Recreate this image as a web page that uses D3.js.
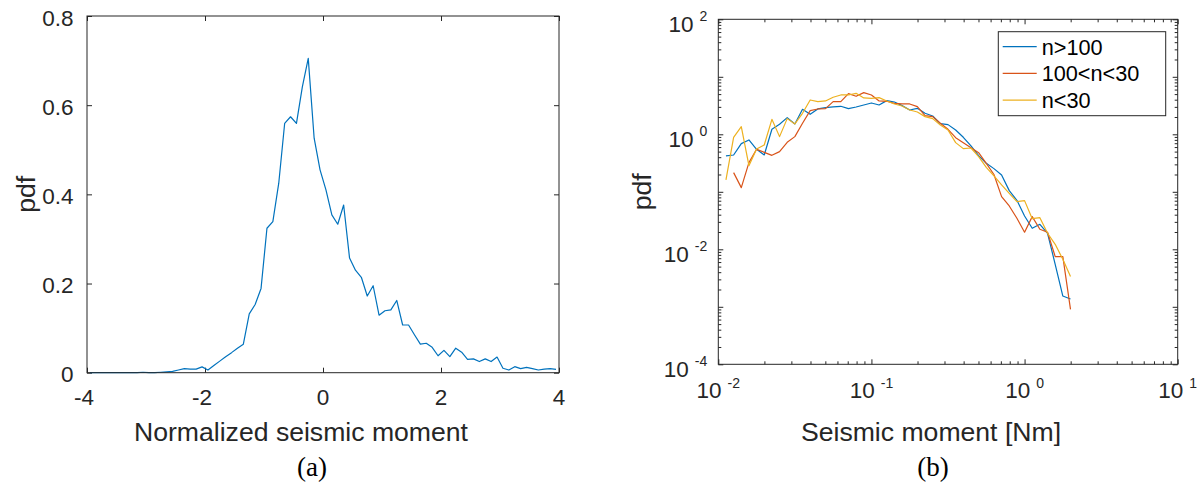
<!DOCTYPE html>
<html><head><meta charset="utf-8">
<script src="https://cdn.jsdelivr.net/npm/d3@7"></script>
<style>
html,body{margin:0;padding:0;background:#fff;}
svg{display:block;font-family:"Liberation Sans",Arial,Helvetica,sans-serif;}
</style></head>
<body>
<svg id="chart" width="1203" height="494"></svg>
<script>
// ---------- Data: panel (a) ----------
const normMomentX = [-3.95,-3.85,-3.75,-3.65,-3.55,-3.45,-3.35,-3.25,-3.15,-3.05,-2.95,-2.85,-2.75,-2.65,-2.55,-2.45,-2.35,-2.25,-2.15,-2.05,
 -1.95,-1.85,-1.75,-1.65,-1.55,-1.45,-1.35,-1.25,-1.15,-1.05,-0.95,-0.85,-0.75,-0.65,-0.55,-0.45,-0.35,-0.25,-0.15,-0.05,
 0.05,0.15,0.25,0.35,0.45,0.55,0.65,0.75,0.85,0.95,1.05,1.15,1.25,1.35,1.45,1.55,1.65,1.75,1.85,1.95,
 2.05,2.15,2.25,2.35,2.45,2.55,2.65,2.75,2.85,2.95,3.05,3.15,3.25,3.35,3.45,3.55,3.65,3.75,3.85,3.95];
const normMomentPdf = [0,0,0,0,0,0,0,0,0,0.001,0,0,0.001,0.002,0.003,0.006,0.009,0.008,0.008,0.013,
 0.006,0.016,0.026,0.036,0.045,0.055,0.064,0.132,0.153,0.189,0.324,0.339,0.425,0.559,0.574,0.559,0.641,0.705,0.526,0.455,
 0.410,0.354,0.333,0.376,0.257,0.230,0.214,0.172,0.195,0.129,0.139,0.141,0.162,0.107,0.107,0.085,0.064,0.066,0.057,0.038,
 0.050,0.036,0.055,0.046,0.030,0.031,0.025,0.031,0.025,0.035,0.010,0.006,0.0135,0.009,0.012,0.009,0.006,0.008,0.009,0.0075];
const aXTicks = [-4,-2,0,2,4];
const aYTicks = [0,0.2,0.4,0.6,0.8];

// ---------- Data: panel (b) ----------
const momentX = [0.01122,0.01259,0.01413,0.01585,0.01778,0.01995,0.02239,0.02512,0.02818,0.03162,0.03548,0.03981,0.04467,0.05012,0.05623,0.0631,
 0.07079,0.07943,0.08913,0.1,0.1122,0.1259,0.1413,0.1585,0.1778,0.1995,0.2239,0.2512,0.2818,0.3162,0.3548,0.3981,0.4467,0.5012,0.5623,0.631,
 0.7079,0.7943,0.8913,1.0,1.122,1.259,1.413,1.585,1.778,1.995];
const pdfN100 = [0.420,0.437,0.688,0.797,0.548,0.437,1.222,1.493,1.950,1.513,2.722,2.228,2.758,2.909,2.988,3.069,
 2.795,2.988,3.237,3.507,3.237,3.850,3.650,3.152,2.650,2.832,2.318,2.084,1.533,1.473,1.190,0.887,0.627,0.426,0.313,0.253,
 0.196,0.1048,0.0712,0.0380,0.0232,0.0272,0.0190,0.00548,0.00154,0.00137];
const pdfN30to100 = [null,0.2154,0.1181,0.3214,0.548,0.486,0.431,0.4995,0.726,0.911,1.553,2.580,2.758,2.795,3.700,3.700,
 5.096,4.580,5.304,4.832,3.800,3.750,3.460,3.370,3.370,3.028,2.112,2.029,1.553,1.222,0.875,0.716,0.586,0.480,0.313,0.200,
 0.0824,0.0567,0.0346,0.0198,0.0370,0.0223,0.0198,0.00746,0.00746,0.000905];
const pdfN30 = [0.1606,0.887,1.359,0.285,0.556,0.652,1.823,0.911,1.873,1.513,2.318,3.955,3.700,3.800,4.400,4.832,
 4.832,5.164,4.283,4.227,4.342,3.800,3.370,3.110,2.650,2.446,2.029,1.873,1.453,1.190,0.716,0.563,0.578,0.409,0.267,0.1886,
 0.1315,0.0942,0.0675,0.0702,0.0341,0.0355,0.0190,0.01222,0.0067,0.00335];
const seriesNames = ["n>100","100<n<30","n<30"];
const seriesColors = ["#0072BD","#D95319","#EDB120"];
const bXTickExp = [-2,-1,0,1];
const bYTickExp = [-4,-2,0,2];

// ---------- Drawing ----------
const svg = d3.select("#chart");
svg.append("rect").attr("width",1203).attr("height",494).attr("fill","#fff");
const ink = "#262626";
const tickFont = 22.5, labelFont = 26.6, supFont = 14, legendFont = 21.7;
const serif = "'Liberation Serif','Times New Roman',serif";

function frame(g, x0, y0, x1, y1){
  g.append("rect").attr("x",x0).attr("y",y0).attr("width",x1-x0).attr("height",y1-y0)
   .attr("fill","none").attr("stroke",ink).attr("stroke-width",1);
}
function styleAxis(sel){
  sel.select(".domain").remove();
  sel.selectAll(".tick line").attr("stroke",ink).attr("stroke-width",1);
  sel.selectAll(".tick text").remove();
}

// Panel (a)
{
  const L=87, R=559, T=16, B=372.7;
  const x = d3.scaleLinear().domain([-4,4]).range([L,R]);
  const y = d3.scaleLinear().domain([0,0.8]).range([B,T]);
  const g = svg.append("g");
  g.append("g").attr("transform",`translate(0,${B})`).call(d3.axisBottom(x).tickValues(aXTicks).tickSizeInner(-5).tickSizeOuter(0)).call(styleAxis);
  g.append("g").attr("transform",`translate(0,${T})`).call(d3.axisTop(x).tickValues(aXTicks).tickSizeInner(-5).tickSizeOuter(0)).call(styleAxis);
  g.append("g").attr("transform",`translate(${L},0)`).call(d3.axisLeft(y).tickValues(aYTicks).tickSizeInner(-5).tickSizeOuter(0)).call(styleAxis);
  g.append("g").attr("transform",`translate(${R},0)`).call(d3.axisRight(y).tickValues(aYTicks).tickSizeInner(-5).tickSizeOuter(0)).call(styleAxis);

  const line = d3.line().x(d=>x(d[0])).y(d=>y(d[1]));
  g.append("path").datum(normMomentX.map((v,i)=>[v,normMomentPdf[i]]))
   .attr("d",line).attr("fill","none").attr("stroke",seriesColors[0]).attr("stroke-width",1.2).attr("stroke-linejoin","round");
  frame(g,L,T,R,B);

  g.selectAll(".xl").data(aXTicks).enter().append("text")
   .attr("x",d=>x(d)-(d<0?3:0)).attr("y",B+32).attr("text-anchor","middle")
   .attr("font-size",tickFont).attr("fill",ink).text(d=>String(d));
  g.selectAll(".yl").data(aYTicks).enter().append("text")
   .attr("x",L-13.5).attr("y",d=>y(d)+9.5).attr("text-anchor","end")
   .attr("font-size",tickFont).attr("fill",ink).text(d=>String(d));
  g.append("text").attr("x",(L+R)/2-22).attr("y",441).attr("text-anchor","middle")
   .attr("font-size",labelFont).attr("fill",ink).text("Normalized seismic moment");
  g.append("text").attr("transform",`translate(35,${(T+B)/2}) rotate(-90)`).attr("text-anchor","middle")
   .attr("font-size",labelFont).attr("fill",ink).text("pdf");
  g.append("text").attr("x",312).attr("y",476).attr("text-anchor","middle")
   .attr("font-family",serif).attr("font-size",27).attr("fill","#000").text("(a)");
}

// Panel (b)
{
  const L=718.3, R=1177.7, T=19.3, B=364.3;
  const x = d3.scaleLog().domain([0.01,10]).range([L,R]);
  const y = d3.scaleLog().domain([1e-4,1e2]).range([B,T]);
  const g = svg.append("g");
  const xMajor = bXTickExp.map(e=>Math.pow(10,e));
  const isDecade = v=>{const l=Math.log10(v);return Math.abs(l-Math.round(l))<1e-6;};
  const xMinor = x.ticks().filter(v=>!isDecade(v));
  const yAll = y.ticks();
  const yMinor = yAll.filter(v=>!isDecade(v));
  const yMajorAll = yAll.filter(isDecade);

  [[d3.axisBottom,B],[d3.axisTop,T]].forEach(([ax,pos])=>{
    g.append("g").attr("transform",`translate(0,${pos})`).call(ax(x).tickValues(xMajor).tickSizeInner(-5).tickSizeOuter(0)).call(styleAxis);
    g.append("g").attr("transform",`translate(0,${pos})`).call(ax(x).tickValues(xMinor).tickSizeInner(-3).tickSizeOuter(0)).call(styleAxis);
  });
  [[d3.axisLeft,L],[d3.axisRight,R]].forEach(([ax,pos])=>{
    g.append("g").attr("transform",`translate(${pos},0)`).call(ax(y).tickValues(yMajorAll).tickSizeInner(-5).tickSizeOuter(0)).call(styleAxis);
    g.append("g").attr("transform",`translate(${pos},0)`).call(ax(y).tickValues(yMinor).tickSizeInner(-3).tickSizeOuter(0)).call(styleAxis);
  });

  const series = [pdfN100,pdfN30to100,pdfN30];
  const line = d3.line().defined(d=>d[1]!=null).x(d=>x(d[0])).y(d=>y(d[1]));
  series.forEach((s,k)=>{
    g.append("path").datum(momentX.map((v,i)=>[v,s[i]]))
     .attr("d",line).attr("fill","none").attr("stroke",seriesColors[k]).attr("stroke-width",1.2).attr("stroke-linejoin","round");
  });
  frame(g,L,T,R,B);

  // tick labels with superscripts
  bXTickExp.forEach(e=>{
    const t = g.append("text").attr("x",x(Math.pow(10,e))).attr("y",B+34).attr("text-anchor","middle")
      .attr("font-size",tickFont).attr("fill",ink);
    t.append("tspan").text("10");
    t.append("tspan").attr("dx",6).attr("dy",-10).attr("font-size",supFont).text(String(e));
  });
  bYTickExp.forEach(e=>{
    const t = g.append("text").attr("x",L-11).attr("y",y(Math.pow(10,e))+12.4).attr("text-anchor","end")
      .attr("font-size",tickFont).attr("fill",ink);
    t.append("tspan").text("10");
    t.append("tspan").attr("dx",6).attr("dy",-11).attr("font-size",supFont).text(String(e));
  });
  g.append("text").attr("x",(L+R)/2-17).attr("y",441).attr("text-anchor","middle")
   .attr("font-size",labelFont).attr("fill",ink).text("Seismic moment [Nm]");
  g.append("text").attr("transform",`translate(651,${(T+B)/2}) rotate(-90)`).attr("text-anchor","middle")
   .attr("font-size",labelFont).attr("fill",ink).text("pdf");
  g.append("text").attr("x",933).attr("y",476).attr("text-anchor","middle")
   .attr("font-family",serif).attr("font-size",27).attr("fill","#000").text("(b)");

  // legend
  const lg = g.append("g");
  lg.append("rect").attr("x",998.3).attr("y",31.7).attr("width",167.4).attr("height",84)
    .attr("fill","#fff").attr("stroke",ink).attr("stroke-width",1);
  seriesNames.forEach((nm,k)=>{
    const cy = 46.7 + k*26.7;
    lg.append("line").attr("x1",1002.7).attr("x2",1036.7).attr("y1",cy).attr("y2",cy)
      .attr("stroke",seriesColors[k]).attr("stroke-width",1.2);
    lg.append("text").attr("x",1041.7).attr("y",cy+7.8).attr("font-size",legendFont).attr("fill","#000").text(nm);
  });
}
</script>
</body></html>
